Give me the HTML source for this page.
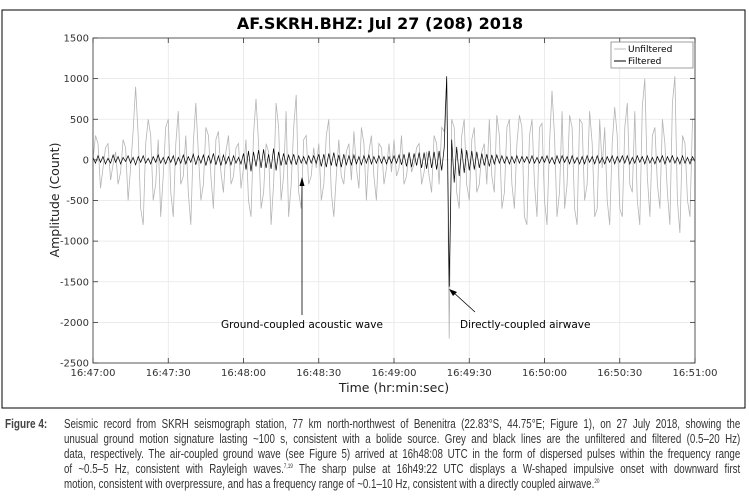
<!DOCTYPE html>
<html><head><meta charset="utf-8"><style>
body{margin:0;width:749px;height:498px;background:#fff;overflow:hidden;font-family:"Liberation Sans",sans-serif}
#cap{position:absolute;left:5px;top:417px;width:738px;font-family:"Liberation Sans",sans-serif;font-size:12.5px;line-height:15px;color:#333}
#cap b{position:absolute;left:0;top:0;font-weight:bold;color:#444;transform:scaleX(0.8);transform-origin:0 0}
#lines{position:absolute;left:59px;top:0;width:867px;transform:scaleX(0.78);transform-origin:0 0}
#lines div{text-align:justify;text-align-last:justify;white-space:nowrap;height:15px}
#lines div.last{text-align-last:left}
sup{font-size:6px;line-height:0;vertical-align:5px}
</style></head><body>
<svg id="chart" width="749" height="412" style="position:absolute;left:0;top:0" font-family="DejaVu Sans, sans-serif">
<rect x="2" y="10" width="743" height="398" fill="#fff" stroke="#000" stroke-width="1"/>
<text x="380" y="29" text-anchor="middle" font-size="16" font-weight="bold">AF.SKRH.BHZ: Jul 27 (208) 2018</text>
<g id="grid"></g><g id="series"></g><g id="axes"></g>
<text x="394" y="392" text-anchor="middle" font-size="12.5" fill="#222">Time (hr:min:sec)</text>
<text transform="translate(59,200) rotate(-90)" text-anchor="middle" font-size="12.5" fill="#222">Amplitude (Count)</text>
<g>
<rect x="611" y="42" width="82" height="26" fill="#fff" stroke="#888" stroke-width="0.8"/>
<line x1="614" y1="49" x2="626" y2="49" stroke="#bbb"/><text x="628" y="52" font-size="9">Unfiltered</text>
<line x1="614" y1="61" x2="626" y2="61" stroke="#000"/><text x="628" y="64" font-size="9">Filtered</text>
</g>
<g>
<line x1="302" y1="182" x2="302" y2="315" stroke="#000" stroke-width="0.8"/>
<polygon points="302,177 299.5,186 304.5,186" fill="#000"/>
<text x="302" y="328" text-anchor="middle" font-size="10.5">Ground-coupled acoustic wave</text>
</g>
<g>
<line x1="475" y1="312" x2="453" y2="292" stroke="#000" stroke-width="0.8"/>
<polygon points="449,289 457,292 453,296" fill="#000"/>
<text x="460" y="328" font-size="10.5">Directly-coupled airwave</text>
</g>
</svg>
<div id="cap"><b>Figure 4:</b><div id="lines">
<div>Seismic record from SKRH seismograph station, 77 km north-northwest of Benenitra (22.83°S, 44.75°E; Figure 1), on 27 July 2018, showing the</div>
<div>unusual ground motion signature lasting ~100 s, consistent with a bolide source. Grey and black lines are the unfiltered and filtered (0.5–20 Hz)</div>
<div>data, respectively. The air-coupled ground wave (see Figure 5) arrived at 16h48:08 UTC in the form of dispersed pulses within the frequency range</div>
<div>of ~0.5–5 Hz, consistent with Rayleigh waves.<sup>7,19</sup> The sharp pulse at 16h49:22 UTC displays a W-shaped impulsive onset with downward first</div>
<div class="last">motion, consistent with overpressure, and has a frequency range of ~0.1–10 Hz, consistent with a directly coupled airwave.<sup>20</sup></div>
</div></div>
<script>
const xTickLabels=["16:47:00","16:47:30","16:48:00","16:48:30","16:49:00","16:49:30","16:50:00","16:50:30","16:51:00"];
const xTickSeconds=[0,30,60,90,120,150,180,210,240];
const yTicks=[1500,1000,500,0,-500,-1000,-1500,-2000,-2500];
const unfiltered=[0,300,200,-350,-100,150,200,-250,-50,100,-300,-150,250,150,-500,-100,350,900,300,-600,-800,200,500,300,-500,-300,250,-700,-200,400,
500,-400,-700,200,600,-300,-200,300,-400,-800,200,700,100,-500,-300,400,300,-200,-600,250,350,-150,-400,100,300,-300,-200,150,200,-350,
-100,250,-500,-700,300,750,200,-600,-400,200,100,-800,-300,700,400,-500,-200,600,-700,-300,400,800,-400,-600,250,300,-300,-200,150,-100,
200,-500,-300,300,500,-400,-700,-200,250,-200,-300,100,200,-250,350,-100,-350,400,200,-500,100,300,-200,-500,200,150,-300,-100,200,-150,
250,-200,-100,300,-300,-200,100,-150,-50,150,200,-300,-150,100,-200,-400,300,200,-300,400,350,1000,-2200,500,400,-400,-600,300,500,-300,
-500,250,400,-400,-300,100,200,-300,500,-200,-400,550,300,-600,-400,400,500,-300,-600,200,550,400,-700,-800,300,500,-300,-700,400,450,
-500,-800,200,850,300,-700,-400,600,-600,-300,550,400,-600,-800,500,450,-500,-300,600,200,-700,-600,500,-100,400,-500,-800,200,650,300,
-600,-700,400,700,-300,-400,600,-500,-800,650,1000,-200,-700,300,400,-300,-600,500,200,-400,-800,700,1030,-500,-900,300,200,-500,-700,500,500];
const filtered=[30,-40,50,-30,40,-50,20,-40,60,-30,40,-50,30,-20,50,-40,30,-60,40,-30,50,-40,20,-50,40,-30,60,-40,30,-50,
40,-30,50,-60,30,-40,60,-50,40,-30,70,-60,50,-40,60,-70,50,-40,80,-60,50,-70,60,-50,40,-60,50,-40,30,-50,
80,-120,110,-140,100,-80,120,-100,130,-100,70,-110,140,-130,100,-70,80,-60,60,-50,70,-60,50,-40,40,-50,50,-40,50,-40,
70,-80,70,-90,80,-70,90,-80,60,-90,70,-60,50,-60,60,-50,40,-60,50,-40,60,-50,40,-40,50,-40,40,-50,40,-40,
50,-40,60,-60,70,-80,90,-90,80,-70,90,-100,90,-110,110,-100,100,-120,110,-130,150,1030,-1560,250,-280,160,-200,140,-160,120,
-130,110,-120,100,-100,80,-70,70,-80,60,-50,60,-40,50,-40,40,-50,40,-40,50,-40,40,-30,40,-40,50,-40,30,-40,40,
-30,50,-40,30,-50,50,-40,50,-30,40,-50,50,-40,30,-50,40,-50,50,-30,40,-50,50,-40,30,-50,40,-30,50,-50,40,
-30,50,-40,50,-50,30,-40,50,-30,40,-50,50,-40,30,-50,40,-30,50,-50,40,-30,50,-40,30,-50,50,-40,30,-50,40,-20];
const X0=93,X1=695,Y0=38,Y1=363;
function xs(t){return X0+(t-0)/(240-0)*(X1-X0);}
function ys(v){return Y0+(1500-v)/(1500+2500)*(Y1-Y0);}
const NS="http://www.w3.org/2000/svg";
function mk(tag,attrs,parent){const e=document.createElementNS(NS,tag);for(const k in attrs)e.setAttribute(k,attrs[k]);parent.appendChild(e);return e;}
const grid=document.getElementById('grid'),axes=document.getElementById('axes'),series=document.getElementById('series');
xTickSeconds.forEach((s,i)=>{const x=xs(s);
 const g=mk('line',{x1:x,x2:x,y1:Y0,y2:Y1,stroke:'#e6e6e6','stroke-width':0.8},grid);
 
 
 mk('line',{x1:x,x2:x,y1:Y1,y2:Y1-5,stroke:'#333','stroke-width':0.8},axes);
 mk('line',{x1:x,x2:x,y1:Y0,y2:Y0+5,stroke:'#333','stroke-width':0.8},axes);
 const t=mk('text',{x:x,y:Y1+13,'text-anchor':'middle','font-size':10,fill:'#333'},axes);t.textContent=xTickLabels[i];
 
 });
yTicks.forEach(v=>{const y=ys(v);
 const g=mk('line',{x1:X0,x2:X1,y1:y,y2:y,stroke:'#e6e6e6','stroke-width':0.8},grid);
 
 
 mk('line',{x1:X0,x2:X0+5,y1:y,y2:y,stroke:'#333','stroke-width':0.8},axes);
 mk('line',{x1:X1,x2:X1-5,y1:y,y2:y,stroke:'#333','stroke-width':0.8},axes);
 const t=mk('text',{x:X0-4,y:y+3.5,'text-anchor':'end','font-size':10,fill:'#333'},axes);t.textContent=v;
 
 });
const box=mk('rect',{x:X0,y:Y0,width:X1-X0,height:Y1-Y0,fill:'none',stroke:'#333','stroke-width':0.8},axes);


function path(arr){const step=240/(arr.length-1);return arr.map((v,i)=>(i?'L':'M')+xs(i*step).toFixed(1)+','+ys(v).toFixed(1)).join('');}
const pu=mk('path',{d:path(unfiltered),fill:'none',stroke:'#b5b5b5','stroke-width':0.8},series);


const pf=mk('path',{d:path(filtered),fill:'none',stroke:'#000','stroke-width':0.7},series);


</script>
</body></html>
